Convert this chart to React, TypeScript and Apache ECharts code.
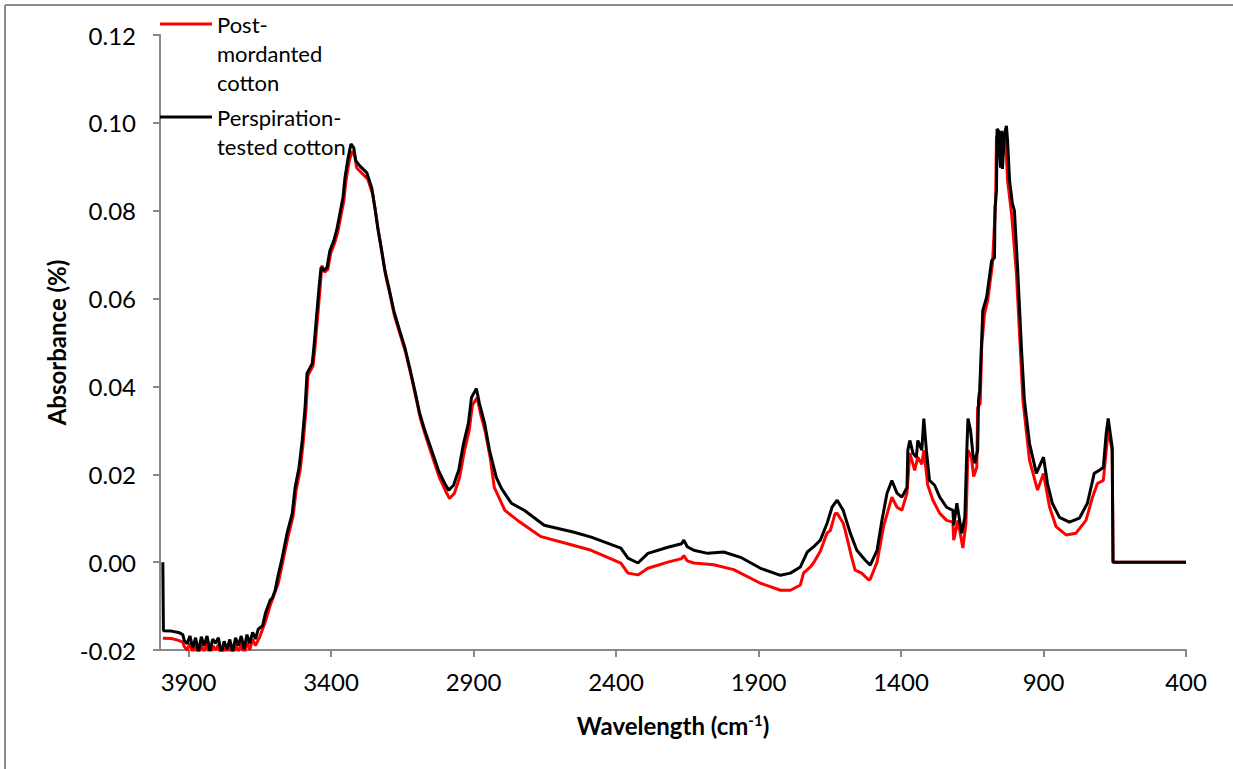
import React, { useEffect, useRef } from "react";
import * as echarts from "echarts";

// Wavenumber (cm-1) vs absorbance
const postMordanted: [number, number][] = [
  [3990, -0.0173], [3960, -0.0174], [3935, -0.0178], [3920, -0.0182], [3915, -0.0192], [3905, -0.0201],
  [3895, -0.0184], [3885, -0.0208], [3875, -0.0188], [3865, -0.0215], [3855, -0.0186], [3845, -0.0205],
  [3835, -0.0184], [3825, -0.0215], [3815, -0.019], [3805, -0.02], [3795, -0.0188], [3785, -0.022],
  [3775, -0.0195], [3765, -0.0212], [3755, -0.0191], [3745, -0.0218], [3735, -0.0188], [3725, -0.0205],
  [3715, -0.0184], [3705, -0.0212], [3695, -0.0181], [3685, -0.02], [3675, -0.0176], [3665, -0.019],
  [3650, -0.017], [3630, -0.0135], [3613, -0.0098], [3600, -0.0075], [3585, -0.0048], [3568, 0.0005],
  [3550, 0.006], [3533, 0.0105], [3522, 0.0165], [3508, 0.021], [3498, 0.027], [3488, 0.0345],
  [3481, 0.0425], [3463, 0.0447], [3457, 0.0483], [3449, 0.0543], [3439, 0.0618], [3432, 0.0675],
  [3422, 0.066], [3411, 0.0667], [3401, 0.0703], [3387, 0.0727], [3376, 0.0752], [3366, 0.0786],
  [3355, 0.0822], [3348, 0.0866], [3337, 0.091], [3327, 0.0935], [3317, 0.0925], [3310, 0.0898],
  [3296, 0.0888], [3271, 0.0872], [3254, 0.0838], [3243, 0.0795], [3233, 0.075], [3222, 0.0708],
  [3208, 0.0652], [3194, 0.0612], [3177, 0.056], [3156, 0.0515], [3138, 0.0477], [3121, 0.043],
  [3103, 0.0378], [3086, 0.0326], [3068, 0.0287], [3044, 0.024], [3020, 0.0193], [2998, 0.0162],
  [2984, 0.0145], [2967, 0.0157], [2949, 0.0192], [2932, 0.0253], [2915, 0.03], [2904, 0.0357],
  [2887, 0.0375], [2876, 0.034], [2858, 0.0295], [2841, 0.0236], [2827, 0.017], [2790, 0.0118],
  [2745, 0.0095], [2663, 0.0058], [2570, 0.0042], [2487, 0.0027], [2383, -0.0002], [2358, -0.0025],
  [2323, -0.0029], [2288, -0.0014], [2218, 0.0], [2170, 0.0008], [2162, 0.0015], [2150, 0.0003],
  [2127, -0.0002], [2057, -0.0006], [1987, -0.0017], [1893, -0.0048], [1823, -0.0064], [1788, -0.0064],
  [1753, -0.0052], [1742, -0.0025], [1718, -0.0011], [1707, -0.0002], [1683, 0.0025], [1660, 0.0066],
  [1648, 0.0072], [1631, 0.0111], [1624, 0.0111], [1603, 0.0089], [1596, 0.0073], [1573, 0.0011],
  [1561, -0.0018], [1538, -0.0025], [1514, -0.004], [1508, -0.0039], [1484, 0.0], [1461, 0.0082],
  [1432, 0.0148], [1414, 0.0125], [1397, 0.0118], [1379, 0.0157], [1369, 0.0248], [1352, 0.0209],
  [1341, 0.0239], [1327, 0.0223], [1320, 0.0255], [1306, 0.0175], [1288, 0.0141], [1264, 0.0111],
  [1240, 0.0095], [1218, 0.0091], [1215, 0.005], [1200, 0.0095], [1183, 0.0032], [1172, 0.0089],
  [1165, 0.0255], [1153, 0.0239], [1145, 0.0195], [1134, 0.0216], [1131, 0.0352], [1122, 0.0361],
  [1117, 0.049], [1107, 0.0565], [1096, 0.0595], [1079, 0.0679], [1068, 0.082], [1065, 0.097],
  [1047, 0.0967], [1033, 0.0967], [1026, 0.0868], [1012, 0.0793], [995, 0.0657], [972, 0.0368],
  [949, 0.0232], [921, 0.0164], [900, 0.0202], [879, 0.0126], [856, 0.0081], [821, 0.0062],
  [786, 0.0066], [751, 0.0095], [728, 0.0148], [711, 0.0179], [690, 0.0186], [673, 0.03],
  [659, 0.0255], [656, 0.0], [400, 0.0],
];

const perspirationTested: [number, number][] = [
  [3990, 0.0], [3988, -0.0156], [3960, -0.0157], [3935, -0.016], [3920, -0.0165], [3915, -0.0178],
  [3905, -0.0186], [3895, -0.0168], [3885, -0.0195], [3875, -0.0172], [3865, -0.0205], [3855, -0.017],
  [3845, -0.019], [3835, -0.0168], [3825, -0.0202], [3815, -0.0175], [3805, -0.0185], [3795, -0.0172],
  [3785, -0.0208], [3775, -0.018], [3765, -0.0198], [3755, -0.0176], [3745, -0.0205], [3735, -0.0172],
  [3725, -0.019], [3715, -0.0168], [3705, -0.0198], [3695, -0.0165], [3685, -0.0185], [3675, -0.016],
  [3665, -0.0175], [3655, -0.0152], [3640, -0.0145], [3630, -0.0116], [3613, -0.0086], [3606, -0.0082],
  [3596, -0.0064], [3589, -0.0041], [3571, 0.0011], [3554, 0.0066], [3536, 0.0111], [3526, 0.017],
  [3512, 0.0216], [3501, 0.0277], [3491, 0.0352], [3484, 0.043], [3466, 0.0452], [3460, 0.0489],
  [3452, 0.055], [3442, 0.0625], [3435, 0.0671], [3425, 0.0664], [3414, 0.0671], [3404, 0.0709],
  [3390, 0.0732], [3379, 0.0759], [3369, 0.0793], [3358, 0.083], [3351, 0.0875], [3340, 0.092],
  [3330, 0.0952], [3320, 0.0943], [3313, 0.0914], [3299, 0.0902], [3274, 0.0886], [3257, 0.0852],
  [3246, 0.0807], [3236, 0.0761], [3225, 0.072], [3211, 0.0664], [3197, 0.0625], [3180, 0.0573],
  [3159, 0.0527], [3141, 0.0489], [3124, 0.0443], [3106, 0.0391], [3089, 0.0339], [3071, 0.03],
  [3047, 0.0255], [3023, 0.0209], [3001, 0.0179], [2987, 0.0164], [2970, 0.0175], [2952, 0.0209],
  [2935, 0.027], [2918, 0.0316], [2907, 0.0375], [2890, 0.0395], [2879, 0.0361], [2861, 0.0316],
  [2844, 0.0255], [2820, 0.0193], [2802, 0.0168], [2767, 0.0134], [2722, 0.0118], [2652, 0.0084],
  [2547, 0.0068], [2487, 0.0057], [2383, 0.0032], [2358, 0.0009], [2323, -0.0002], [2288, 0.002],
  [2218, 0.0034], [2170, 0.0042], [2162, 0.005], [2150, 0.0035], [2127, 0.0027], [2078, 0.002],
  [2022, 0.0023], [1963, 0.0011], [1893, -0.0014], [1823, -0.003], [1788, -0.0025], [1753, -0.0011],
  [1729, 0.0023], [1708, 0.0034], [1683, 0.005], [1659, 0.0089], [1642, 0.0125], [1624, 0.0141],
  [1603, 0.0118], [1578, 0.0066], [1555, 0.0027], [1526, 0.0005], [1508, -0.0007], [1484, 0.0027],
  [1467, 0.0095], [1449, 0.0157], [1432, 0.0186], [1414, 0.0157], [1397, 0.0148], [1379, 0.017],
  [1376, 0.0255], [1369, 0.0277], [1358, 0.0248], [1346, 0.0239], [1341, 0.0277], [1327, 0.0255],
  [1320, 0.0327], [1311, 0.0255], [1300, 0.0186], [1282, 0.0175], [1264, 0.0148], [1240, 0.0125],
  [1218, 0.0118], [1215, 0.0084], [1204, 0.0134], [1187, 0.0066], [1176, 0.0102], [1169, 0.0255],
  [1165, 0.0327], [1156, 0.03], [1148, 0.0248], [1141, 0.0225], [1131, 0.0255], [1128, 0.0368],
  [1124, 0.0391], [1117, 0.0505], [1113, 0.0573], [1100, 0.0602], [1093, 0.0634], [1082, 0.0686],
  [1072, 0.0693], [1070, 0.0807], [1065, 0.0845], [1063, 0.0986], [1058, 0.0982], [1051, 0.0898],
  [1047, 0.0982], [1044, 0.0895], [1037, 0.0975], [1030, 0.0993], [1026, 0.0959], [1019, 0.0868],
  [1009, 0.0816], [1002, 0.08], [991, 0.0671], [977, 0.0482], [967, 0.0368], [949, 0.027],
  [925, 0.0202], [900, 0.0239], [886, 0.0179], [869, 0.0134], [844, 0.0102], [809, 0.0091],
  [774, 0.01], [746, 0.0134], [722, 0.0202], [704, 0.0209], [690, 0.0216], [680, 0.0293],
  [673, 0.0327], [659, 0.0261], [656, 0.0], [400, 0.0],
];

const xTicks = [400, 900, 1400, 1900, 2400, 2900, 3400, 3900];
const seriesNames = ["Post-\nmordanted\ncotton", "Perspiration-\ntested cotton"];
const seriesColors = ["#ff0000", "#000000"];

const FONT = "Lato, Carlito, Calibri, 'Open Sans', sans-serif";
const AXIS_GRAY = "#898989";

export default function App() {
  const ref = useRef<HTMLDivElement>(null);
  useEffect(() => {
    if (!ref.current) return;
    const chart = echarts.init(ref.current, null, { renderer: "svg" });
    chart.setOption({
      animation: false,
      backgroundColor: "#ffffff",
      textStyle: { fontFamily: FONT },
      grid: { left: 160, right: 47, top: 35, bottom: 119, containLabel: false },
      xAxis: {
        type: "value",
        inverse: true,
        min: 400,
        max: 4000,
        interval: 500,
        name: "Wavelength (cm{sup|-1})",
        nameLocation: "middle",
        nameGap: 62,
        nameTextStyle: {
          fontFamily: FONT,
          fontSize: 24,
          fontWeight: "bold",
          color: "#000",
          rich: {
            sup: { fontFamily: FONT, fontSize: 15, fontWeight: "bold", color: "#000", verticalAlign: "top", padding: [0, 0, 11, 0] },
          },
        },
        axisLine: { show: true, onZero: false, lineStyle: { color: AXIS_GRAY, width: 2 } },
        axisTick: { show: true, length: 7, customValues: xTicks, lineStyle: { color: AXIS_GRAY, width: 2 } },
        axisLabel: {
          customValues: xTicks,
          margin: 19,
          fontSize: 24,
          color: "#000",
          fontFamily: FONT,
          formatter: (v: number) => String(v),
        },
        splitLine: { show: false },
      },
      yAxis: {
        type: "value",
        min: -0.02,
        max: 0.12,
        interval: 0.02,
        name: "Absorbance (%)",
        nameLocation: "middle",
        nameGap: 91,
        nameRotate: 90,
        nameTextStyle: { fontFamily: FONT, fontSize: 24, fontWeight: "bold", color: "#000" },
        axisLine: { show: true, onZero: false, lineStyle: { color: AXIS_GRAY, width: 2 } },
        axisTick: { show: true, length: 7, lineStyle: { color: AXIS_GRAY, width: 2 } },
        axisLabel: {
          margin: 24,
          fontSize: 24,
          color: "#000",
          fontFamily: FONT,
          formatter: (v: number) => v.toFixed(2),
        },
        splitLine: { show: false },
      },
      series: [
        {
          name: seriesNames[0],
          type: "line",
          data: postMordanted,
          showSymbol: false,
          symbol: "none",
          lineStyle: { color: seriesColors[0], width: 3 },
          itemStyle: { color: seriesColors[0] },
          z: 2,
        },
        {
          name: seriesNames[1],
          type: "line",
          data: perspirationTested,
          showSymbol: false,
          symbol: "none",
          lineStyle: { color: seriesColors[1], width: 3 },
          itemStyle: { color: seriesColors[1] },
          z: 3,
        },
      ],
      graphic: [
        { type: "line", shape: { x1: 5, y1: 5, x2: 1233, y2: 5 }, style: { stroke: "#8c8c8c", lineWidth: 2 } },
        { type: "line", shape: { x1: 5, y1: 5, x2: 5, y2: 769 }, style: { stroke: "#8c8c8c", lineWidth: 2 } },
        { type: "line", shape: { x1: 160, y1: 24, x2: 212, y2: 24 }, style: { stroke: seriesColors[0], lineWidth: 3 }, z: 10 },
        {
          type: "text",
          x: 217,
          y: 10,
          z: 10,
          style: { text: seriesNames[0], fill: "#000", fontSize: 22, fontFamily: FONT, lineHeight: 29, textVerticalAlign: "top", verticalAlign: "top" },
        },
        { type: "line", shape: { x1: 160, y1: 117, x2: 212, y2: 117 }, style: { stroke: seriesColors[1], lineWidth: 3 }, z: 10 },
        {
          type: "text",
          x: 217,
          y: 103,
          z: 10,
          style: { text: seriesNames[1], fill: "#000", fontSize: 22, fontFamily: FONT, lineHeight: 29, textVerticalAlign: "top", verticalAlign: "top" },
        },
      ],
    });
    return () => chart.dispose();
  }, []);
  return (
    <div
      ref={ref}
      style={{ position: "fixed", left: 0, top: 0, width: 1233, height: 769, background: "#fff" }}
    />
  );
}
